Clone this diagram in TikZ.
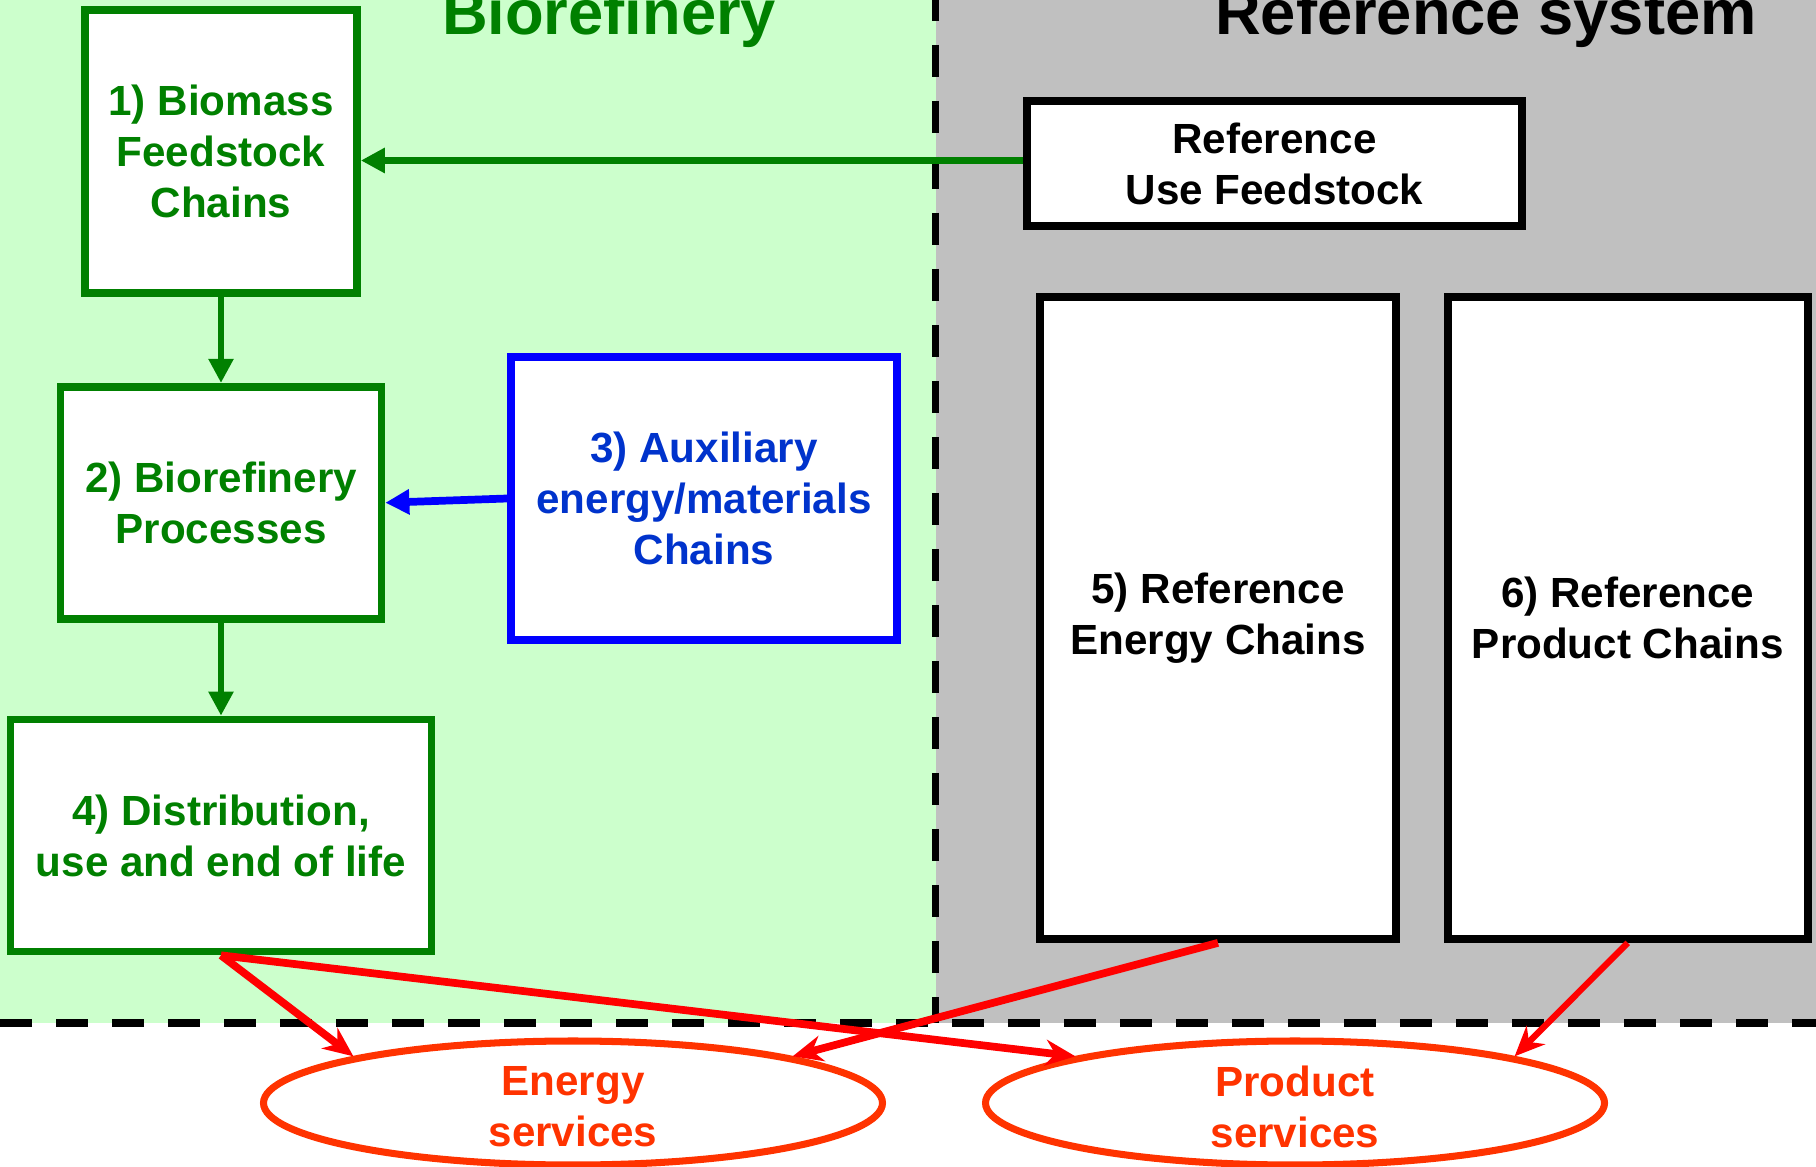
\documentclass[tikz,border=0pt]{standalone}
\usepackage{fontspec}
\setmainfont{Liberation Sans}
\usepackage{tikz}
\usetikzlibrary{arrows.meta,positioning,shapes.geometric}
\definecolor{bggreen}{HTML}{CCFFCC}
\definecolor{bggray}{HTML}{C0C0C0}
\definecolor{bgreen}{HTML}{008000}
\definecolor{auxblue}{HTML}{0033CC}
\definecolor{sred}{HTML}{FF3300}

\begin{document}
\begin{tikzpicture}[thick, box/.style = {draw, fill=white, line width=2.2pt, align=center, inner sep=0pt, font=\fontsize{12}{14.5}\selectfont\bfseries}, bio/.style = {box, draw=bgreen, text=bgreen}, refbox/.style = {box, draw=black}, service/.style = {ellipse, draw=sred, fill=white, line width=2pt, minimum width=6.19cm, minimum height=1.24cm, inner sep=0pt}, svctext/.style = {align=center, text=sred, yshift=-0.035cm, font=\fontsize{12}{14.5}\selectfont\bfseries}, flow/.style = {-{Triangle[length=0.24cm,width=0.24cm]}, line width=1.6pt}, serve/.style = {-{Stealth[length=0.3cm,width=0.26cm]}, line width=2.2pt, red}, sep/.style = {line width=2.1pt, dash pattern=on 0.32cm off 0.24cm}, title/.style = {anchor=base, font=\fontsize{18}{21}\selectfont\bfseries}]
\useasboundingbox (0,0) rectangle (18.16,-11.67);
\clip (0,0) rectangle (18.16,-11.67);
% the two systems
\fill[bggreen] (0,0) rectangle (9.36,-10.23);
\fill[bggray] (9.36,0) rectangle (18.16,-10.23);
\draw[sep] (9.355,0.11) -- (9.355,-10.23);
\draw[sep] (0,-10.23) -- (18.16,-10.23);
\node[title, text=bgreen] (biotitle) at (6.09,-0.35) {Biorefinery};
\node[title] (reftitle) at (14.86,-0.35) {Reference system};
% biorefinery chains
\node[bio, minimum width=2.72cm, minimum height=2.83cm] (feed) at (2.21,-1.515) {1) Biomass\\Feedstock\\Chains};
\node[bio, minimum width=3.21cm, minimum height=2.32cm] (proc) [below=0.86cm of feed] {2) Biorefinery\\Processes};
\node[bio, minimum width=4.21cm, minimum height=2.32cm] (dist) [below=0.93cm of proc] {4) Distribution,\\use and end of life};
\node[box, draw=blue, text=auxblue, minimum width=3.86cm, minimum height=2.83cm] (aux) at (7.04,-4.985) {3) Auxiliary\\energy/materials\\Chains};
% reference chains
\node[refbox, minimum width=4.95cm, minimum height=1.25cm] (refuse) at (12.745,-1.635) {Reference\\Use Feedstock};
\node[refbox, minimum width=3.56cm, minimum height=6.42cm] (refen) at (12.18,-6.18) {5) Reference\\Energy Chains};
\node[refbox, minimum width=3.60cm, minimum height=6.42cm] (refprod) [right=0.44cm of refen] {6) Reference\\Product Chains};
% services
\node[service, label={[svctext]center:Energy\\services}] (energy) at (5.73,-11.03) {};
\node[service, label={[svctext]center:Product\\services}] (product) at (12.95,-11.03) {};
\draw[flow, bgreen, line width=2pt] ([yshift=0.03cm]refuse.west) -- ([yshift=0.03cm]refuse.west -| feed.east);
\draw[flow, bgreen] (feed.south) -- (proc.north);
\draw[flow, bgreen] (proc.south) -- (dist.north);
\draw[flow, blue, line width=2.2pt] (aux.west) -- (proc.east);
\draw[serve] (dist.south) -- (energy.168);
\draw[serve] (dist.south) -- (product.168);
\draw[serve] (refen.south) -- (energy.12);
\draw[serve, line width=1.8pt] (refprod.south) -- (product.12);
\end{tikzpicture}
\end{document}
